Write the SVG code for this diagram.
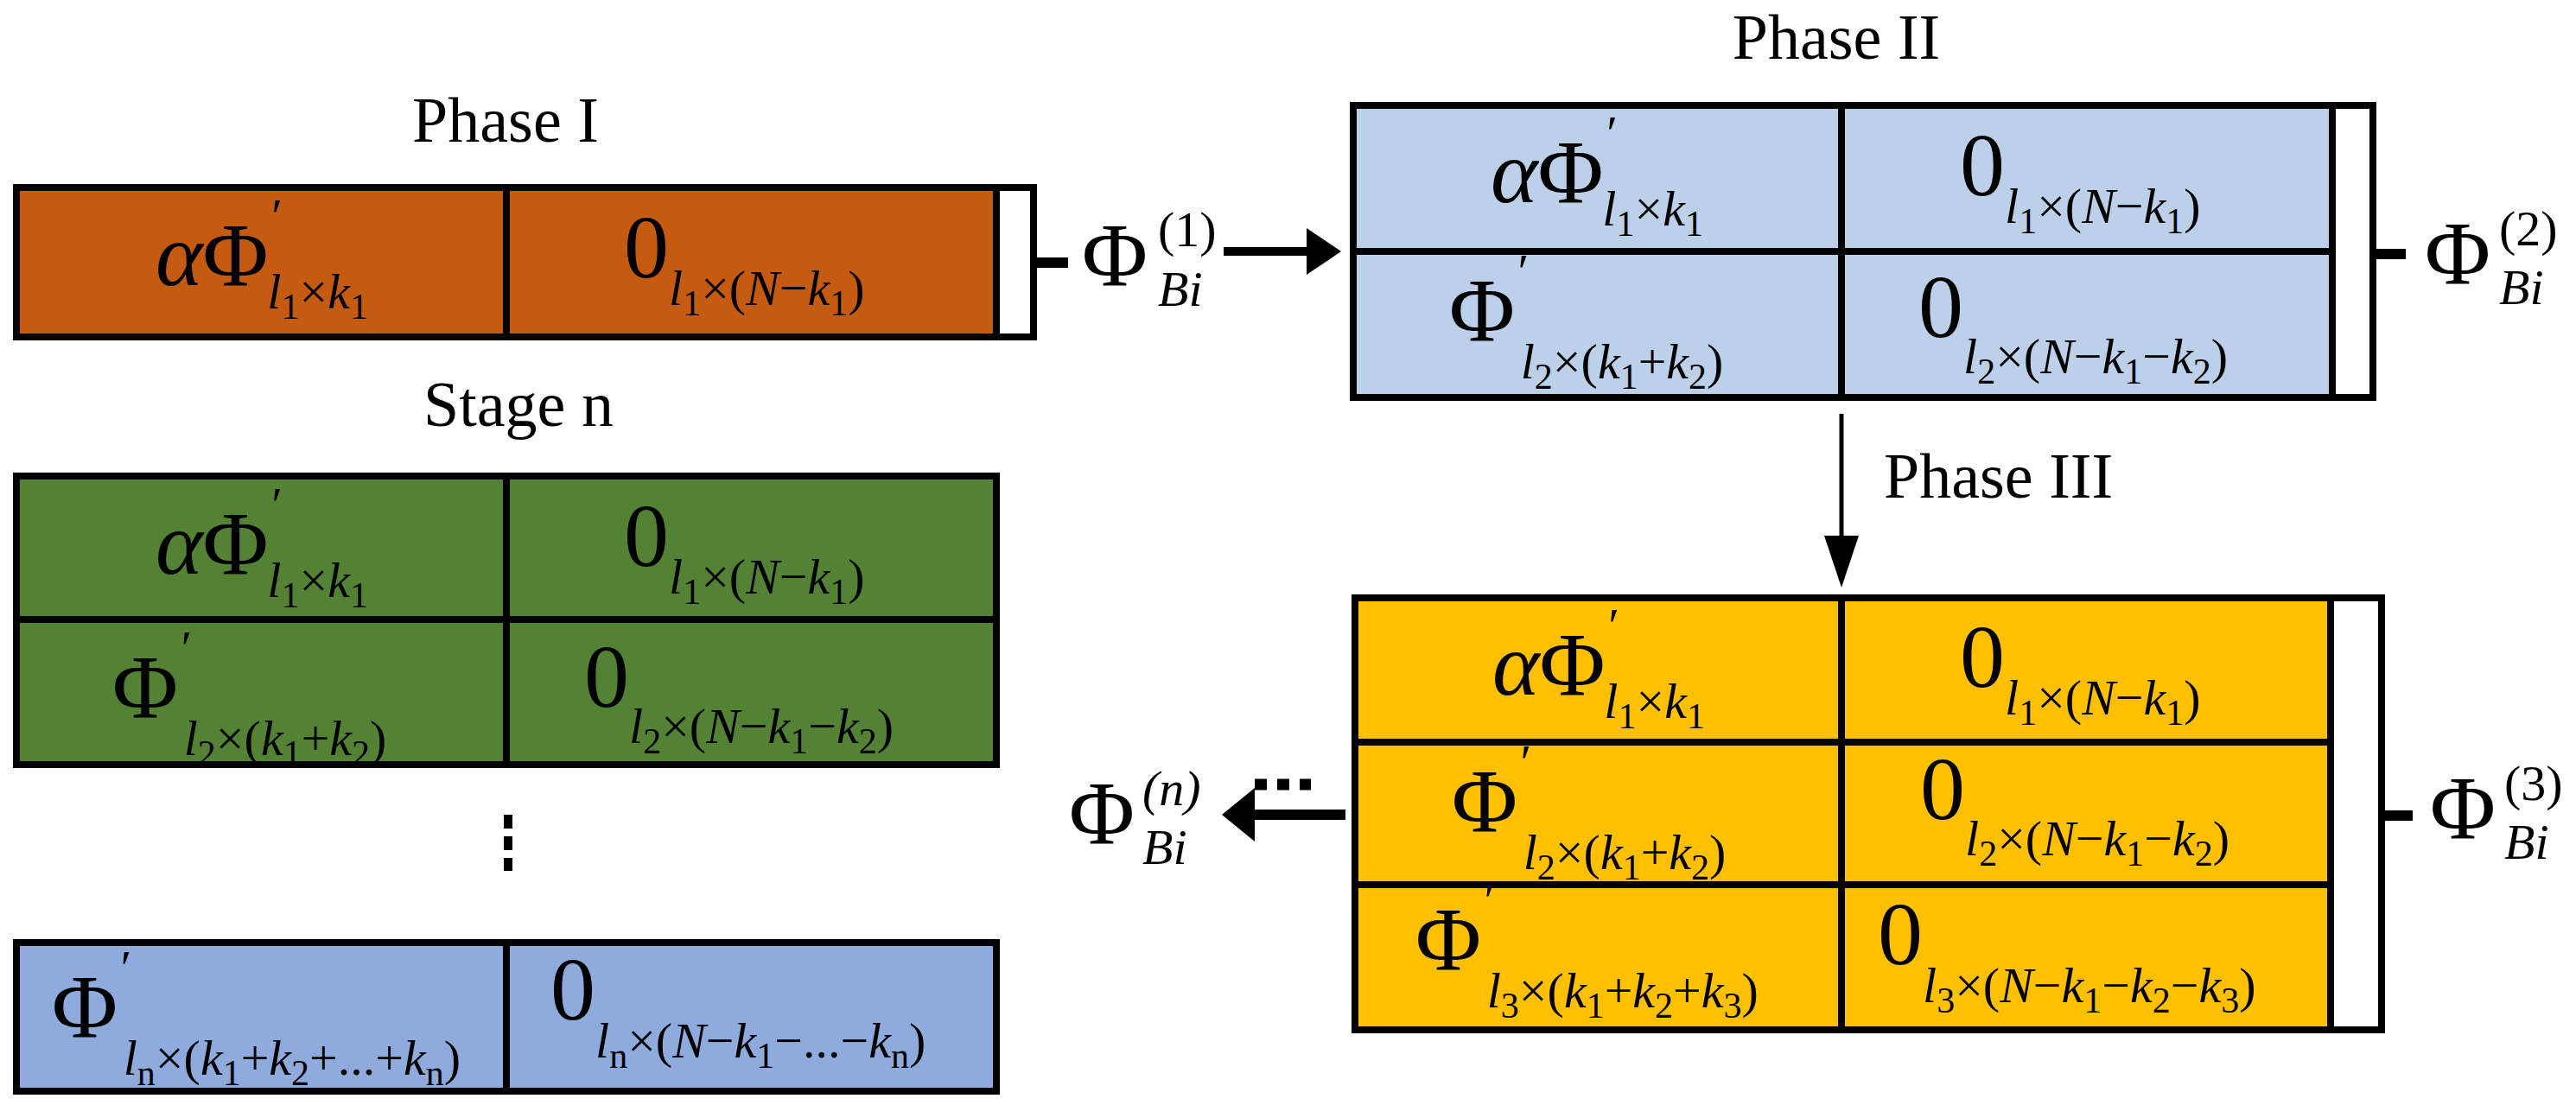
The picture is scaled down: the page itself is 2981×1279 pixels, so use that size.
<svg xmlns="http://www.w3.org/2000/svg" width="2981" height="1279" viewBox="0 0 2981 1279">
<style>
text{font-family:"Liberation Serif","Times New Roman",serif;fill:#000}
.t{font-size:74px}
.b{font-size:104px}
.i{font-style:italic}
.s{font-size:58px;font-style:italic}
.ss{font-size:42px;font-style:normal}
.box{stroke:#000;stroke-width:8}
.ln{stroke:#000;stroke-width:8;fill:none}
</style>
<rect width="2981" height="1279" fill="#fff"/>
<text class="t" x="585" y="164" text-anchor="middle">Phase I</text>
<text class="t" x="600" y="493" text-anchor="middle">Stage n</text>
<text class="t" x="2125" y="68" text-anchor="middle">Phase II</text>
<text class="t" x="2180" y="576">Phase III</text>

<g id="phase1">
<rect class="box" x="19" y="217" width="1134" height="173" fill="#C55A11"/>
<line class="ln" x1="586" y1="217" x2="586" y2="390"/>
<rect class="box" x="1153" y="217" width="43" height="173" fill="#fff"/>
<text class="b" x="180" y="330"><tspan class="i">α</tspan>Φ<tspan class="s" dx="0" dy="-60">′</tspan><tspan class="s" dx="-14" dy="87">l<tspan class="ss" dy="12">1</tspan><tspan dy="-12" style="font-style:normal">×</tspan>k<tspan class="ss" dy="12">1</tspan></tspan></text>
<text class="b" x="722" y="321">0<tspan class="s" dy="32">l<tspan class="ss" dy="12">1</tspan><tspan dy="-12" style="font-style:normal">×(</tspan>N<tspan style="font-style:normal">−</tspan>k<tspan class="ss" dy="12">1</tspan><tspan dy="-12" style="font-style:normal">)</tspan></tspan></text>
</g>
<g id="phi1">
<text class="b" x="1252" y="330">Φ<tspan class="s" x="1340" y="285" style="font-style:normal">(1)</tspan><tspan class="s" x="1340" y="354">Bi</tspan></text>
</g>

<g id="stage">
<rect class="box" x="19" y="551" width="1134" height="334" fill="#548235"/>
<line class="ln" x1="19" y1="717" x2="1153" y2="717"/>
<line class="ln" x1="586" y1="551" x2="586" y2="885"/>
<text class="b" x="180" y="664"><tspan class="i">α</tspan>Φ<tspan class="s" dy="-60">′</tspan><tspan class="s" dx="-14" dy="87">l<tspan class="ss" dy="12">1</tspan><tspan dy="-12" style="font-style:normal">×</tspan>k<tspan class="ss" dy="12">1</tspan></tspan></text>
<text class="b" x="722" y="655">0<tspan class="s" dy="32">l<tspan class="ss" dy="12">1</tspan><tspan dy="-12" style="font-style:normal">×(</tspan>N<tspan style="font-style:normal">−</tspan>k<tspan class="ss" dy="12">1</tspan><tspan dy="-12" style="font-style:normal">)</tspan></tspan></text>
<text class="b" x="130" y="830">Φ<tspan class="s" dy="-60">′</tspan><tspan class="s" dx="-6" dy="104">l<tspan class="ss" dy="12">2</tspan><tspan dy="-12" style="font-style:normal">×(</tspan>k<tspan class="ss" dy="12">1</tspan><tspan dy="-12" style="font-style:normal">+</tspan>k<tspan class="ss" dy="12">2</tspan><tspan dy="-12" style="font-style:normal">)</tspan></tspan></text>
<text class="b" x="676" y="818">0<tspan class="s" dy="42">l<tspan class="ss" dy="12">2</tspan><tspan dy="-12" style="font-style:normal">×(</tspan>N<tspan style="font-style:normal">−</tspan>k<tspan class="ss" dy="12">1</tspan><tspan dy="-12" style="font-style:normal">−</tspan>k<tspan class="ss" dy="12">2</tspan><tspan dy="-12" style="font-style:normal">)</tspan></tspan></text>
</g>
<line x1="588" y1="943" x2="588" y2="1008" stroke="#000" stroke-width="10" stroke-dasharray="16,9"/>

<g id="stagen">
<rect class="box" x="19" y="1091" width="1134" height="172" fill="#8FAADC"/>
<line class="ln" x1="586" y1="1091" x2="586" y2="1263"/>
<text class="b" x="60" y="1200">Φ<tspan class="s" dy="-60">′</tspan><tspan class="s" dx="-6" dy="104">l<tspan class="ss" dy="12">n</tspan><tspan dy="-12" style="font-style:normal">×(</tspan>k<tspan class="ss" dy="12">1</tspan><tspan dy="-12" style="font-style:normal">+</tspan>k<tspan class="ss" dy="12">2</tspan><tspan dy="-12" style="font-style:normal">+...+</tspan>k<tspan class="ss" dy="12">n</tspan><tspan dy="-12" style="font-style:normal">)</tspan></tspan></text>
<text class="b" x="637" y="1180">0<tspan class="s" dy="44">l<tspan class="ss" dy="12">n</tspan><tspan dy="-12" style="font-style:normal">×(</tspan>N<tspan style="font-style:normal">−</tspan>k<tspan class="ss" dy="12">1</tspan><tspan dy="-12" style="font-style:normal">−...−</tspan>k<tspan class="ss" dy="12">n</tspan><tspan dy="-12" style="font-style:normal">)</tspan></tspan></text>
</g>
<g id="phin">
<text class="b" x="1237" y="976">Φ<tspan class="s" x="1322" y="932">(n)</tspan><tspan class="s" x="1322" y="1000">Bi</tspan></text>
</g>

<g id="phase2">
<rect class="box" x="1566" y="122" width="1133" height="338" fill="#BDD0E9"/>
<line class="ln" x1="1566" y1="291" x2="2699" y2="291"/>
<line class="ln" x1="2131" y1="122" x2="2131" y2="460"/>
<rect class="box" x="2699" y="122" width="47" height="338" fill="#fff"/>
<text class="b" x="1725" y="234"><tspan class="i">α</tspan>Φ<tspan class="s" dy="-60">′</tspan><tspan class="s" dx="-14" dy="87">l<tspan class="ss" dy="12">1</tspan><tspan dy="-12" style="font-style:normal">×</tspan>k<tspan class="ss" dy="12">1</tspan></tspan></text>
<text class="b" x="2268" y="226">0<tspan class="s" dy="32">l<tspan class="ss" dy="12">1</tspan><tspan dy="-12" style="font-style:normal">×(</tspan>N<tspan style="font-style:normal">−</tspan>k<tspan class="ss" dy="12">1</tspan><tspan dy="-12" style="font-style:normal">)</tspan></tspan></text>
<text class="b" x="1677" y="394">Φ<tspan class="s" dy="-60">′</tspan><tspan class="s" dx="-6" dy="104">l<tspan class="ss" dy="12">2</tspan><tspan dy="-12" style="font-style:normal">×(</tspan>k<tspan class="ss" dy="12">1</tspan><tspan dy="-12" style="font-style:normal">+</tspan>k<tspan class="ss" dy="12">2</tspan><tspan dy="-12" style="font-style:normal">)</tspan></tspan></text>
<text class="b" x="2220" y="390">0<tspan class="s" dy="42">l<tspan class="ss" dy="12">2</tspan><tspan dy="-12" style="font-style:normal">×(</tspan>N<tspan style="font-style:normal">−</tspan>k<tspan class="ss" dy="12">1</tspan><tspan dy="-12" style="font-style:normal">−</tspan>k<tspan class="ss" dy="12">2</tspan><tspan dy="-12" style="font-style:normal">)</tspan></tspan></text>
</g>
<g id="phi2">
<text class="b" x="2806" y="328">Φ<tspan class="s" x="2892" y="284" style="font-style:normal">(2)</tspan><tspan class="s" x="2892" y="352">Bi</tspan></text>
</g>

<g id="phase3">
<rect class="box" x="1568" y="692" width="1129" height="500" fill="#FFC000"/>
<line class="ln" x1="1568" y1="859" x2="2697" y2="859"/>
<line class="ln" x1="1568" y1="1024" x2="2697" y2="1024"/>
<line class="ln" x1="2131" y1="692" x2="2131" y2="1192"/>
<rect class="box" x="2697" y="692" width="59" height="500" fill="#fff"/>
<text class="b" x="1727" y="804"><tspan class="i">α</tspan>Φ<tspan class="s" dy="-60">′</tspan><tspan class="s" dx="-14" dy="87">l<tspan class="ss" dy="12">1</tspan><tspan dy="-12" style="font-style:normal">×</tspan>k<tspan class="ss" dy="12">1</tspan></tspan></text>
<text class="b" x="2268" y="795">0<tspan class="s" dy="32">l<tspan class="ss" dy="12">1</tspan><tspan dy="-12" style="font-style:normal">×(</tspan>N<tspan style="font-style:normal">−</tspan>k<tspan class="ss" dy="12">1</tspan><tspan dy="-12" style="font-style:normal">)</tspan></tspan></text>
<text class="b" x="1680" y="962">Φ<tspan class="s" dy="-60">′</tspan><tspan class="s" dx="-6" dy="104">l<tspan class="ss" dy="12">2</tspan><tspan dy="-12" style="font-style:normal">×(</tspan>k<tspan class="ss" dy="12">1</tspan><tspan dy="-12" style="font-style:normal">+</tspan>k<tspan class="ss" dy="12">2</tspan><tspan dy="-12" style="font-style:normal">)</tspan></tspan></text>
<text class="b" x="2222" y="948">0<tspan class="s" dy="42">l<tspan class="ss" dy="12">2</tspan><tspan dy="-12" style="font-style:normal">×(</tspan>N<tspan style="font-style:normal">−</tspan>k<tspan class="ss" dy="12">1</tspan><tspan dy="-12" style="font-style:normal">−</tspan>k<tspan class="ss" dy="12">2</tspan><tspan dy="-12" style="font-style:normal">)</tspan></tspan></text>
<text class="b" x="1638" y="1122">Φ<tspan class="s" dy="-60">′</tspan><tspan class="s" dx="-6" dy="104">l<tspan class="ss" dy="12">3</tspan><tspan dy="-12" style="font-style:normal">×(</tspan>k<tspan class="ss" dy="12">1</tspan><tspan dy="-12" style="font-style:normal">+</tspan>k<tspan class="ss" dy="12">2</tspan><tspan dy="-12" style="font-style:normal">+</tspan>k<tspan class="ss" dy="12">3</tspan><tspan dy="-12" style="font-style:normal">)</tspan></tspan></text>
<text class="b" x="2173" y="1116">0<tspan class="s" dy="44">l<tspan class="ss" dy="12">3</tspan><tspan dy="-12" style="font-style:normal">×(</tspan>N<tspan style="font-style:normal">−</tspan>k<tspan class="ss" dy="12">1</tspan><tspan dy="-12" style="font-style:normal">−</tspan>k<tspan class="ss" dy="12">2</tspan><tspan dy="-12" style="font-style:normal">−</tspan>k<tspan class="ss" dy="12">3</tspan><tspan dy="-12" style="font-style:normal">)</tspan></tspan></text>
</g>
<g id="phi3">
<text class="b" x="2812" y="970">Φ<tspan class="s" x="2898" y="926" style="font-style:normal">(3)</tspan><tspan class="s" x="2898" y="994">Bi</tspan></text>
</g>

<g id="connectors">
<line x1="1196" y1="304" x2="1236" y2="304" stroke="#000" stroke-width="12"/>
<line x1="1416" y1="291" x2="1525" y2="291" stroke="#000" stroke-width="10"/>
<polygon points="1512,264 1552,291 1512,318" fill="#000"/>
<line x1="2746" y1="294" x2="2784" y2="294" stroke="#000" stroke-width="12"/>
<line x1="2131" y1="479" x2="2131" y2="630" stroke="#000" stroke-width="5"/>
<polygon points="2111,620 2151,620 2131,680" fill="#000"/>
<line x1="2756" y1="944" x2="2792" y2="944" stroke="#000" stroke-width="12"/>
<line x1="1440" y1="943" x2="1557" y2="943" stroke="#000" stroke-width="12"/>
<polygon points="1452,912 1452,974 1414,943" fill="#000"/>
<line x1="1452" y1="908" x2="1517" y2="908" stroke="#000" stroke-width="13" stroke-dasharray="14,12"/>
</g>
</svg>
